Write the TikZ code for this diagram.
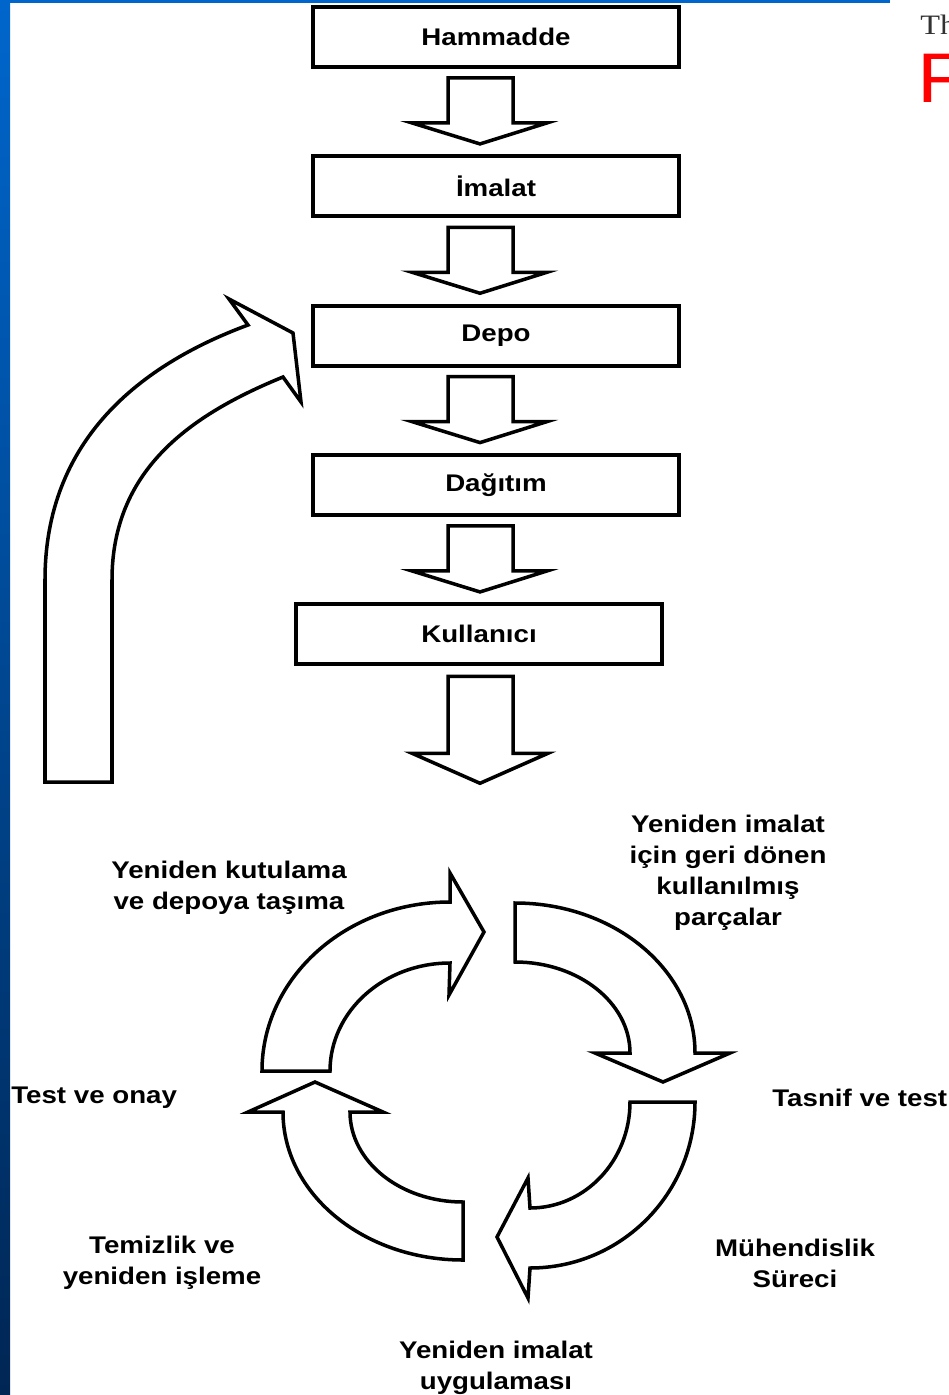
\documentclass[tikz,border=0pt]{standalone}
\usepackage{fontspec}
\setmainfont{Liberation Sans}[FakeStretch=1.15]
\newfontfamily\headserif{Liberation Serif}[FakeStretch=1.15]
\usetikzlibrary{positioning}
\definecolor{stripblue}{RGB}{0,102,204}
\definecolor{stripdark}{RGB}{0,38,84}
\definecolor{headgray}{RGB}{50,50,50}
\tikzset{stage/.style={draw, line width=2.2pt, minimum width=7.32cm, minimum height=1.2cm, inner sep=0pt, font=\bfseries\fontsize{13.7}{16}\selectfont}}
\tikzset{blockarrow/.style={draw, fill=white, line width=2pt, line join=miter}}
\tikzset{caption/.style={align=center, inner sep=0pt, font=\bfseries\fontsize{13.7}{17.6}\selectfont}}

\begin{document}
\begin{tikzpicture}[x=0.02cm, y=-0.02cm]
    \useasboundingbox (0,0) rectangle (949,1395);
    % slide frame
    \shade[top color=stripblue, bottom color=stripdark] (0,0) rectangle (10,1395);
    \fill[stripblue] (0,0) rectangle (890,3);
    \node[anchor=base west, inner sep=0pt, text=headgray, font=\headserif\fontsize{16}{16}\selectfont] (th) at (920,35) {Th};
    \node[anchor=base west, inner sep=0pt, text=red, font=\fontsize{40}{40}\selectfont] (bigf) at (917,103) {F};

    % supply chain
    \node[stage] (hammadde) at (496,37) {Hammadde};
    \node[stage, below=1.71cm of hammadde] (imalat) {İmalat};
    \node[stage, below=1.71cm of imalat] (depo) {Depo};
    \node[stage, below=1.71cm of depo] (dagitim) {Dağıtım};
    \node[stage, below=1.71cm of dagitim, xshift=-0.34cm] (kullanici) {Kullanıcı};
    \foreach \a in {hammadde, imalat, depo, dagitim} {
        \draw[blockarrow] (\a.south) ++(-48,9) -- ++(65,0) -- ++(0,45) -- ++(34,0)
            -- ++(-67,21) -- ++(-68,-21) -- ++(36,0) -- cycle;
    }
    \draw[blockarrow] (kullanici.south) ++(-31,10) -- ++(65,0) -- ++(0,77) -- ++(35,0)
        -- ++(-68,30) -- ++(-68,-30) -- ++(36,0) -- cycle;

    % return to depot
    \draw[blockarrow] (45,782) -- (45,580) .. controls (45,440) and (140,365) .. (248,325)
        -- (229,299) -- (293,333) -- (301,402) -- (283,377)
        .. controls (190,415) and (112,470) .. (112,580) -- (112,782) -- cycle;

    % remanufacturing cycle
    \draw[blockarrow] (262,1071) arc[start angle=180, end angle=270, x radius=188, y radius=169]
        -- (450,873) -- (484,932) -- (449,995) -- (450,963)
        arc[start angle=270, end angle=180, x radius=120, y radius=108] -- cycle;
    \draw[blockarrow] (515,903) arc[start angle=270, end angle=360, x radius=180, y radius=150]
        -- (730,1053) -- (663,1082) -- (595,1053) -- (630,1053)
        arc[start angle=0, end angle=-90, x radius=115, y radius=91] -- cycle;
    \draw[blockarrow] (695,1102) arc[start angle=0, end angle=90, x radius=165, y radius=166]
        -- (528,1298) -- (497,1237) -- (528,1178) -- (530,1208)
        arc[start angle=90, end angle=0, x radius=100, y radius=106] -- cycle;
    \draw[blockarrow] (463,1260) arc[start angle=90, end angle=180, x radius=180, y radius=148]
        -- (248,1112) -- (315,1082) -- (383,1112) -- (350,1112)
        arc[start angle=180, end angle=90, x radius=113, y radius=90] -- cycle;

    \node[caption] (parts) at (728,873) {Yeniden imalat\\için geri dönen\\kullanılmış\\parçalar};
    \node[caption] (repack) at (229,888) {Yeniden kutulama\\ve depoya taşıma};
    \node[caption, anchor=west] (approve) at (11,1098) {Test ve onay};
    \node[caption, anchor=west] (sort) at (772,1098) {Tasnif ve test};
    \node[caption] (clean) at (162,1263) {Temizlik ve\\yeniden işleme};
    \node[caption] (engineer) at (795,1263) {Mühendislik\\Süreci};
    \node[caption] (apply) at (496,1368) {Yeniden imalat\\uygulaması};
\end{tikzpicture}
\end{document}
